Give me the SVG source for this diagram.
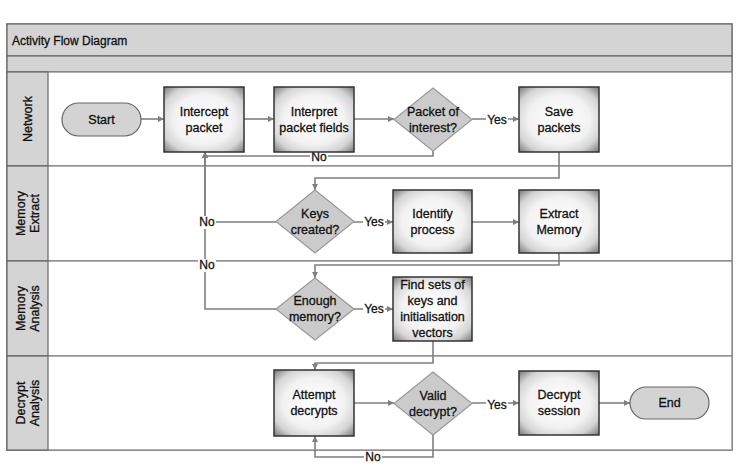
<svg xmlns="http://www.w3.org/2000/svg" width="740" height="468" viewBox="0 0 740 468">
<style>
.frame{fill:#fff;stroke:#7f7f7f;stroke-width:1.5}
.hdr{fill:#d4d4d4;stroke:#666;stroke-width:1.2}
.lanehdr{fill:#d4d4d4;stroke:#666;stroke-width:1.2}
.lane{fill:#fff;stroke:#7f7f7f;stroke-width:1.2}
.box{fill:url(#glow);stroke:#333;stroke-width:1.5}
.dia{fill:#cbcbcb;stroke:#999;stroke-width:1.2}
.pill{fill:#d3d3d3;stroke:#666;stroke-width:1.2}
text{font-family:"Liberation Sans",Arial,sans-serif;font-size:12.5px;fill:#111;stroke:#111;stroke-width:0.3;text-anchor:middle}
.title{text-anchor:start;font-size:12px}
.lbl{font-size:12px}
.con{fill:none;stroke:#7f7f7f;stroke-width:1.6;marker-end:url(#arr)}
.lblbg{fill:#fff}
</style>
<defs>
<radialGradient id="glow" cx="50%" cy="50%" r="70%">
<stop offset="0%" stop-color="#ffffff"/>
<stop offset="55%" stop-color="#f2f2f2"/>
<stop offset="78%" stop-color="#d4d4d4"/>
<stop offset="100%" stop-color="#7a7a7a"/>
</radialGradient>
<marker id="arr" viewBox="0 0 10 10" refX="10" refY="5" markerWidth="6" markerHeight="6" markerUnits="userSpaceOnUse" orient="auto">
<path d="M0,0 L10,5 L0,10 z" fill="#7f7f7f"/>
</marker>
</defs>

<g id="pool">
<rect class="frame" x="7" y="24" width="725" height="426"/>
<rect class="hdr" x="7" y="24" width="725" height="32"/>
<rect class="hdr" x="7" y="56" width="725" height="16"/>
<text class="title" x="12" y="45">Activity Flow Diagram</text>
</g>

<g id="lane-network">
<rect class="lane" x="7" y="72" width="725" height="94"/>
<rect class="lanehdr" x="7" y="72" width="41" height="94"/>
<text transform="translate(32,119) rotate(-90)">Network</text>
</g>
<g id="lane-memextract">
<rect class="lane" x="7" y="166" width="725" height="95"/>
<rect class="lanehdr" x="7" y="166" width="41" height="95"/>
<text transform="translate(25,213.5) rotate(-90)">Memory</text>
<text transform="translate(39,213.5) rotate(-90)">Extract</text>
</g>
<g id="lane-memanalysis">
<rect class="lane" x="7" y="261" width="725" height="95"/>
<rect class="lanehdr" x="7" y="261" width="41" height="95"/>
<text transform="translate(25,308.5) rotate(-90)">Memory</text>
<text transform="translate(39,308.5) rotate(-90)">Analysis</text>
</g>
<g id="lane-decrypt">
<rect class="lane" x="7" y="356" width="725" height="94"/>
<rect class="lanehdr" x="7" y="356" width="41" height="94"/>
<text transform="translate(25,403) rotate(-90)">Decrypt</text>
<text transform="translate(39,403) rotate(-90)">Analysis</text>
</g>

<g id="connectors">
<path class="con" d="M141,119 H164"/>
<path class="con" d="M244,119 H274"/>
<path class="con" d="M354,119 H394"/>
<path class="con" d="M472,119 H519"/>
<path class="con" d="M433,151 V156 H205 V152"/>
<path class="con" d="M559,152 V178 H315 V190"/>
<path class="con" d="M276,222 H205 V152"/>
<path class="con" d="M276,309 H205 V152"/>
<path class="con" d="M354,222 H393"/>
<path class="con" d="M472,222 H519"/>
<path class="con" d="M559,253 V265 H315 V278"/>
<path class="con" d="M354,309 H393"/>
<path class="con" d="M433,341 V363 H315 V370"/>
<path class="con" d="M354,403 H394"/>
<path class="con" d="M472,403 H519"/>
<path class="con" d="M599,403 H630"/>
<path class="con" d="M433,435 V457 H315 V436"/>
<rect class="lblbg" x="486" y="113" width="22" height="13"/>
<text class="lbl" x="497" y="124">Yes</text>
<rect class="lblbg" x="310" y="150" width="18" height="13"/>
<text class="lbl" x="319" y="161">No</text>
<rect class="lblbg" x="198" y="216" width="18" height="13"/>
<text class="lbl" x="207" y="226">No</text>
<rect class="lblbg" x="198" y="259" width="18" height="13"/>
<text class="lbl" x="207" y="269">No</text>
<rect class="lblbg" x="363" y="216" width="22" height="13"/>
<text class="lbl" x="374" y="226">Yes</text>
<rect class="lblbg" x="363" y="303" width="22" height="13"/>
<text class="lbl" x="374" y="313">Yes</text>
<rect class="lblbg" x="486" y="399" width="22" height="13"/>
<text class="lbl" x="497" y="409">Yes</text>
<rect class="lblbg" x="364" y="451" width="18" height="13"/>
<text class="lbl" x="373" y="461">No</text>
</g>

<g id="start">
<rect class="pill" x="62" y="103" width="79" height="33" rx="16.5"/>
<text x="101.5" y="124">Start</text>
</g>
<g id="intercept">
<rect class="box" x="164" y="87" width="80" height="65"/>
<text x="204" y="116">Intercept</text>
<text x="204" y="132">packet</text>
</g>
<g id="interpret">
<rect class="box" x="274" y="87" width="80" height="65"/>
<text x="314" y="116">Interpret</text>
<text x="314" y="132">packet fields</text>
</g>
<g id="packet-interest">
<polygon class="dia" points="433,88 472,119.5 433,151 394,119.5"/>
<text x="433" y="116">Packet of</text>
<text x="433" y="132">interest?</text>
</g>
<g id="save">
<rect class="box" x="519" y="87" width="80" height="65"/>
<text x="559" y="116">Save</text>
<text x="559" y="132">packets</text>
</g>
<g id="keys">
<polygon class="dia" points="315,190 354,221.5 315,253 276,221.5"/>
<text x="315" y="218">Keys</text>
<text x="315" y="234">created?</text>
</g>
<g id="identify">
<rect class="box" x="393" y="190" width="79" height="63"/>
<text x="432.5" y="218">Identify</text>
<text x="432.5" y="234">process</text>
</g>
<g id="extract">
<rect class="box" x="519" y="190" width="80" height="63"/>
<text x="559" y="218">Extract</text>
<text x="559" y="234">Memory</text>
</g>
<g id="enough">
<polygon class="dia" points="315,278 354,309 315,340 276,309"/>
<text x="315" y="305">Enough</text>
<text x="315" y="321">memory?</text>
</g>
<g id="findsets">
<rect class="box" x="393" y="277" width="79" height="64"/>
<text x="432.5" y="289">Find sets of</text>
<text x="432.5" y="305">keys and</text>
<text x="432.5" y="321">initialisation</text>
<text x="432.5" y="337">vectors</text>
</g>
<g id="attempt">
<rect class="box" x="274" y="370" width="80" height="66"/>
<text x="314" y="399">Attempt</text>
<text x="314" y="415">decrypts</text>
</g>
<g id="valid">
<polygon class="dia" points="433,372 472,403.5 433,435 394,403.5"/>
<text x="433" y="400">Valid</text>
<text x="433" y="416">decrypt?</text>
</g>
<g id="decrypt">
<rect class="box" x="519" y="371" width="80" height="64"/>
<text x="559" y="399">Decrypt</text>
<text x="559" y="415">session</text>
</g>
<g id="end">
<rect class="pill" x="630" y="387" width="79" height="32" rx="16"/>
<text x="669.5" y="407">End</text>
</g>
</svg>
